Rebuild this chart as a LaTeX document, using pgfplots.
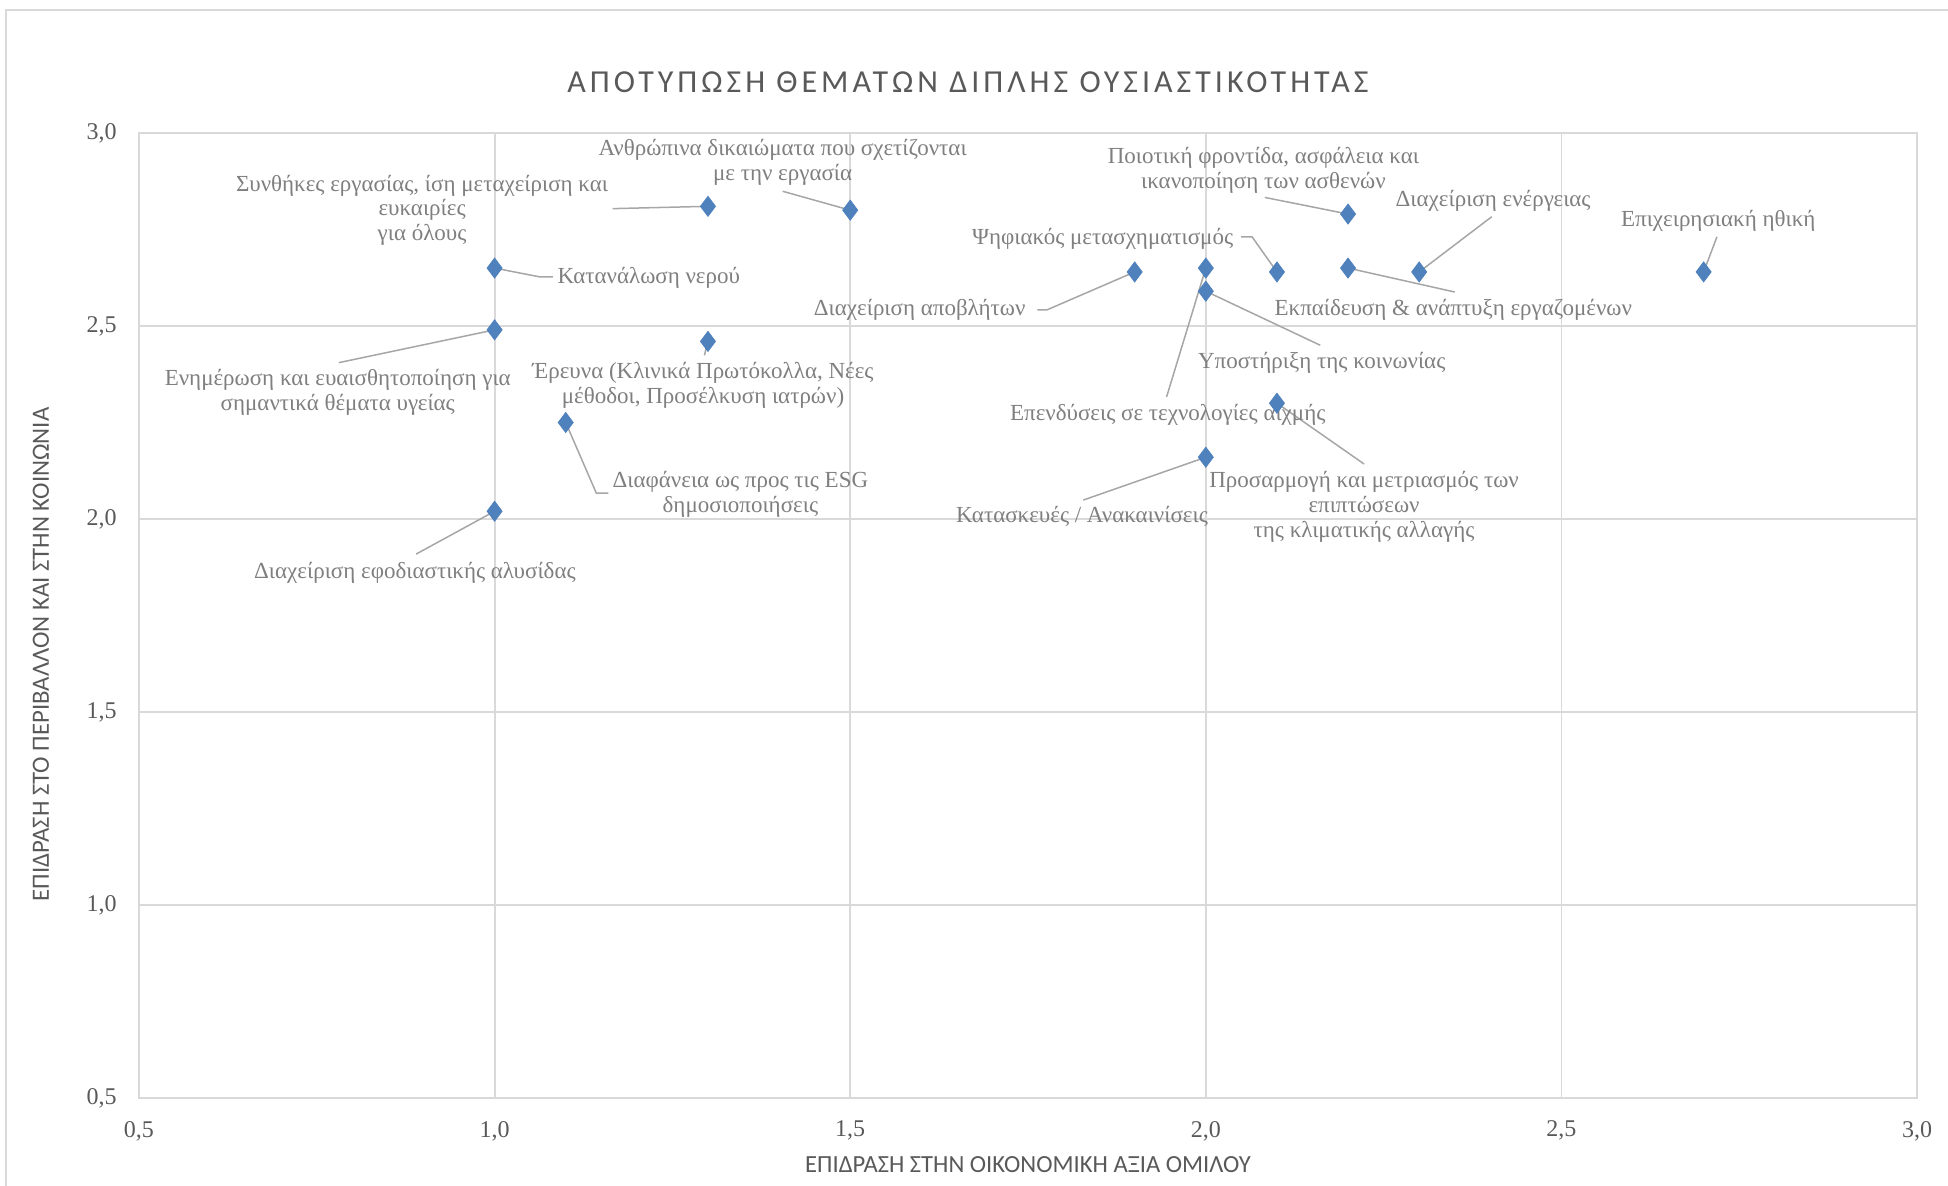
\documentclass[border=0pt]{standalone}
\usepackage{fontspec}
\setmainfont{Liberation Serif}
\newfontfamily\titlefont[LetterSpace=12.5]{Carlito}
\newfontfamily\axfont{Carlito}
\usepackage{pgfplots}
\usepackage{pgfplotstable}
\pgfplotsset{compat=1.18}
\definecolor{gridgray}{HTML}{D9D9D9}
\definecolor{txtgray}{HTML}{595959}
\definecolor{lblgray}{HTML}{7F7F7F}
\definecolor{leadgray}{HTML}{A6A6A6}
\definecolor{markblue}{HTML}{4F81BD}
\pgfplotstableread{
x y
1.3 2.81
1.5 2.80
1.0 2.65
1.0 2.49
1.3 2.46
1.1 2.25
1.0 2.02
1.9 2.64
2.1 2.64
2.0 2.65
2.0 2.59
2.2 2.65
2.2 2.79
2.3 2.64
2.7 2.64
2.1 2.30
2.0 2.16
}\points
\begin{document}
\begin{tikzpicture}
\useasboundingbox (0,0) rectangle (974pt,593pt);
\draw[gridgray, line width=1pt] (3pt,-2pt) -- (3pt,588pt) -- (980pt,588pt);
\node[font=\titlefont\fontsize{16}{19}\selectfont, text=txtgray] at (484pt,552pt) {ΑΠΟΤΥΠΩΣΗ ΘΕΜΑΤΩΝ ΔΙΠΛΗΣ ΟΥΣΙΑΣΤΙΚΟΤΗΤΑΣ};
\node[font=\axfont\fontsize{12.3}{14}\selectfont, text=txtgray] at (514pt,10.5pt) {ΕΠΙΔΡΑΣΗ ΣΤΗΝ ΟΙΚΟΝΟΜΙΚΗ ΑΞΙΑ ΟΜΙΛΟΥ};
\node[font=\axfont\fontsize{12.4}{14}\selectfont, text=txtgray, rotate=90] at (20.5pt,265.7pt) {ΕΠΙΔΡΑΣΗ ΣΤΟ ΠΕΡΙΒΑΛΛΟΝ ΚΑΙ ΣΤΗΝ ΚΟΙΝΩΝΙΑ};
\begin{axis}[
  at={(69.5pt,44pt)}, anchor=south west,
  scale only axis, width=889pt, height=482.5pt,
  xmin=0.5, xmax=3.0, ymin=0.5, ymax=3.0,
  xtick={0.5,1.0,...,3.0}, ytick={0.5,1.0,...,3.0},
  grid=major, major grid style={gridgray, line width=0.9pt},
  axis line style={gridgray, line width=1pt},
  major tick length=0pt,
  clip=false,
  /pgf/number format/.cd, use comma, fixed, fixed zerofill, precision=1, assume math mode=true,
  /pgfplots/.cd,
  ticklabel style={font=\fontsize{12}{14}\selectfont, text=txtgray},
  yticklabel style={xshift=-7.7pt},
  xticklabel style={yshift=-8pt},
]
\tikzset{lbl/.style={font=\fontsize{11.5}{12.4}\selectfont, text=lblgray, align=center, inner sep=0pt},
         ld/.style={leadgray, line width=0.75pt}}
% leader lines
\draw[ld] (axis cs:1.166,2.804) -- (axis cs:1.3,2.81);
\draw[ld] (axis cs:1.405,2.849) -- (axis cs:1.5,2.80);
\draw[ld] (axis cs:1.0,2.65) -- (axis cs:1.064,2.627) -- (axis cs:1.082,2.627);
\draw[ld] (axis cs:0.781,2.405) -- (axis cs:1.0,2.49);
\draw[ld] (axis cs:1.295,2.424) -- (axis cs:1.3,2.46);
\draw[ld] (axis cs:1.1,2.25) -- (axis cs:1.143,2.067) -- (axis cs:1.160,2.067);
\draw[ld] (axis cs:0.8896,1.909) -- (axis cs:1.0,2.02);
\draw[ld] (axis cs:1.763,2.542) -- (axis cs:1.777,2.542) -- (axis cs:1.9,2.64);
\draw[ld] (axis cs:2.0496,2.731) -- (axis cs:2.065,2.731) -- (axis cs:2.1,2.64);
\draw[ld] (axis cs:1.9448,2.316) -- (axis cs:2.0,2.65);
\draw[ld] (axis cs:2.161,2.450) -- (axis cs:2.0,2.59);
\draw[ld] (axis cs:2.350,2.588) -- (axis cs:2.2,2.65);
\draw[ld] (axis cs:2.083,2.833) -- (axis cs:2.2,2.79);
\draw[ld] (axis cs:2.402,2.783) -- (axis cs:2.3,2.64);
\draw[ld] (axis cs:2.7187,2.731) -- (axis cs:2.7,2.64);
\draw[ld] (axis cs:2.2225,2.1425) -- (axis cs:2.1,2.30);
\draw[ld] (axis cs:1.8277,2.049) -- (axis cs:2.0,2.16);
\addplot[only marks, mark=diamond*, mark size=5pt, mark options={fill=markblue, draw=markblue}] table[x=x,y=y] {\points};
% labels
\node[lbl] at (axis cs:0.898,2.800) {Συνθήκες εργασίας, ίση μεταχείριση και\\ευκαιρίες\\για όλους};
\node[lbl] at (axis cs:1.405,2.923) {Ανθρώπινα δικαιώματα που σχετίζονται\\με την εργασία};
\node[lbl, anchor=west] at (axis cs:1.088,2.625) {Κατανάλωση νερού};
\node[lbl] at (axis cs:0.7795,2.3275) {Ενημέρωση και ευαισθητοποίηση για\\σημαντικά θέματα υγείας};
\node[lbl] at (axis cs:1.293,2.347) {Έρευνα (Κλινικά Πρωτόκολλα, Νέες\\μέθοδοι, Προσέλκυση ιατρών)};
\node[lbl] at (axis cs:1.3456,2.0637) {Διαφάνεια ως προς τις ESG\\δημοσιοποιήσεις};
\node[lbl] at (axis cs:0.888,1.861) {Διαχείριση εφοδιαστικής αλυσίδας};
\node[lbl, anchor=east] at (axis cs:1.747,2.543) {Διαχείριση αποβλήτων};
\node[lbl, anchor=east] at (axis cs:2.039,2.7265) {Ψηφιακός μετασχηματισμός};
\node[lbl] at (axis cs:1.9465,2.2696) {Επενδύσεις σε τεχνολογίες αιχμής};
\node[lbl] at (axis cs:2.163,2.405) {Υποστήριξη της κοινωνίας};
\node[lbl] at (axis cs:2.348,2.543) {Εκπαίδευση \& ανάπτυξη εργαζομένων};
\node[lbl] at (axis cs:2.081,2.9035) {Ποιοτική φροντίδα, ασφάλεια και\\ικανοποίηση των ασθενών};
\node[lbl] at (axis cs:2.404,2.823) {Διαχείριση ενέργειας};
\node[lbl] at (axis cs:2.7205,2.7716) {Επιχειρησιακή ηθική};
\node[lbl] at (axis cs:2.2225,2.0315) {Προσαρμογή και μετριασμός των\\επιπτώσεων\\της κλιματικής αλλαγής};
\node[lbl] at (axis cs:1.826,2.006) {Κατασκευές / Ανακαινίσεις};
\end{axis}
\end{tikzpicture}
\end{document}
